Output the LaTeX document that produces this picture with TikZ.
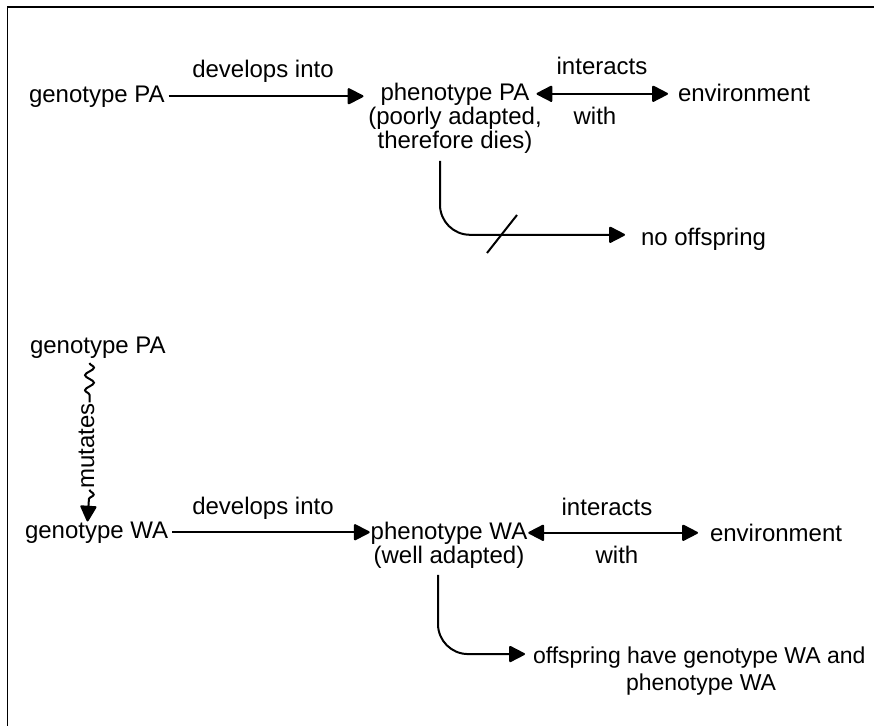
\documentclass[tikz,border=0pt]{standalone}
\usepackage{fontspec}
\setmainfont{Liberation Sans}
\usetikzlibrary{arrows.meta,decorations.pathmorphing,calc}
\begin{document}
\begin{tikzpicture}[x=1pt,y=-1pt,
  txt/.style={inner sep=0pt, outer sep=0pt, font=\fontsize{24}{25}\selectfont},
  txtn/.style={txt, font=\fontsize{23}{24}\selectfont},
  tip/.tip={Triangle[length=17pt,width=17pt,round]},
  conn/.style={line width=2pt, -tip},
  dconn/.style={line width=2pt, tip-tip},
  wavy/.style={line width=2pt, decorate, decoration={snake, amplitude=4.5pt, segment length=15pt}},
  frame/.style={line width=1.6pt},
]
\useasboundingbox (0,0) rectangle (874,726);
\draw[frame] (874,7) -- (7.5,7) -- (7.5,726);

% upper part
\node[txt, anchor=base west] (gPA) at (29,102) {genotype PA};
\node[txt, anchor=base] (dev1) at (263,77) {develops into};
\node[txt, anchor=base] (phPA) at (455,100) {phenotype PA};
\node[txt, anchor=base] (phPAa) at (455,124) {(poorly adapted,};
\node[txt, anchor=base] (phPAb) at (455,148) {therefore dies)};
\node[txt, anchor=base] (int1) at (602,74) {interacts};
\node[txt, anchor=base] (with1) at (595,124) {with};
\node[txt, anchor=base west] (env1) at (678,101) {environment};
\node[txt, anchor=base west] (noOff) at (641,245) {no offspring};

\draw[conn, shorten <=4pt, shorten >=17pt] (gPA.east) -- (gPA.east -| phPA.west);
\draw[dconn, shorten <=7pt, shorten >=10pt] (phPA.east) -- (phPA.east -| env1.west);
\draw[conn, rounded corners=30pt, shorten <=8pt, shorten >=16pt]
  ([xshift=-15pt]phPAb.south) |- ([yshift=4pt]noOff.west);
\draw[line width=2pt] (487,253) -- (517,215);

% lower part
\node[txt, anchor=base west] (gPA2) at (30,353) {genotype PA};
\node[txt, rotate=90] (mut) at (86.5,446) {mutates};
\node[txt, anchor=base west] (gWA) at (25,538) {genotype WA};
\node[txt, anchor=base] (dev2) at (263,514) {develops into};
\node[txt, anchor=base] (phWA) at (449,539) {phenotype WA};
\node[txt, anchor=base] (phWAa) at (449,563) {(well adapted)};
\node[txt, anchor=base] (int2) at (607,515) {interacts};
\node[txt, anchor=base] (with2) at (617,563) {with};
\node[txt, anchor=base west] (env2) at (710,541) {environment};
\node[txtn, anchor=base west] (off1) at (533,663) {offspring have genotype WA and};
\node[txtn, anchor=base] (off2) at (701,690) {phenotype WA};

\draw[wavy] ($(gPA2.south -| mut.center)+(3,5)$) -- ($(mut.east)+(3,-1)$);
\draw[wavy, decoration={post length=16pt}, -tip]
  ($(mut.west)+(3,1)$) -- ($(gWA.north -| mut.center)+(1,0)$);

\draw[conn, shorten <=4pt, shorten >=1pt] (gWA.east) -- (gWA.east -| phWA.west);
\draw[dconn, shorten <=1pt, shorten >=12pt] (phWA.east) -- (phWA.east -| env2.west);
\draw[conn, rounded corners=30pt, shorten <=7pt, shorten >=8pt]
  ([xshift=-11pt]phWAa.south) |- ([yshift=3pt]off1.west);
\end{tikzpicture}
\end{document}
